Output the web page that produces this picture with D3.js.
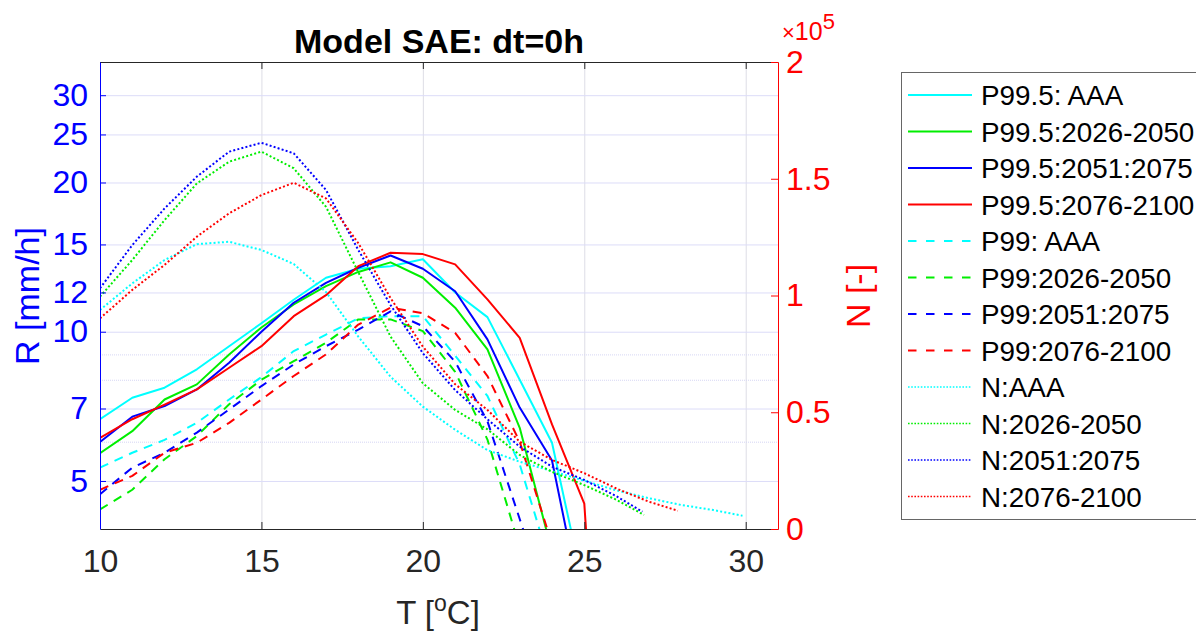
<!DOCTYPE html>
<html lang="en">
<head>
<meta charset="UTF-8">
<title>Model SAE: dt=0h</title>
<script src="https://d3js.org/d3.v7.min.js"></script>
<style>
    body { margin: 0; background: #fff; }
    svg { display: block; }
</style>
</head>
<body>
<svg id="chart" width="1196" height="632"></svg>
<script>
// ---- data ----
const tempsP = [10, 11, 12, 13, 14, 15, 16, 17, 18, 19, 20, 21, 22, 23, 24, 25, 26];

// P99.5 intensities [mm/h]
const p995AAA  = [6.66, 7.36, 7.71, 8.4, 9.35, 10.4, 11.6, 12.85, 13.4, 13.56, 14.0, 12.0, 10.7, 8.0, 5.97, 3.0];
const p995_2026 = [5.69, 6.3, 7.3, 7.83, 9.0, 10.2, 11.35, 12.36, 13.2, 13.8, 12.85, 11.18, 9.21, 6.4, 3.6];
const p995_2051 = [5.99, 6.74, 7.08, 7.65, 8.66, 10.0, 11.44, 12.55, 13.46, 14.25, 13.4, 12.07, 9.65, 7.03, 5.5, 2.64];
const p995_2076 = [6.11, 6.66, 7.13, 7.65, 8.46, 9.35, 10.75, 11.85, 13.56, 14.43, 14.34, 13.67, 11.62, 9.72, 6.5, 4.5, 0.5];

// P99 intensities [mm/h]
const p99AAA  = [5.32, 5.7, 6.05, 6.55, 7.3, 8.1, 9.14, 9.87, 10.64, 10.75, 10.75, 8.95, 7.42, 5.4, 3.3];
const p99_2026 = [4.38, 4.8, 5.53, 6.16, 7.14, 8.0, 8.72, 9.5, 10.59, 10.59, 10.03, 8.3, 6.06, 3.67];
const p99_2051 = [4.7, 5.32, 5.7, 6.26, 6.97, 7.77, 8.59, 9.35, 10.1, 10.99, 10.26, 8.7, 6.6, 4.19, 2.67];
const p99_2076 = [4.8, 5.12, 5.7, 5.97, 6.55, 7.3, 8.14, 9.0, 10.34, 11.18, 10.9, 9.95, 8.14, 6.0, 3.73];

// number of events N [-] (right axis)
const tempsNAAA  = [10, 11, 12, 13, 14, 15, 16, 17, 18, 19, 20, 21, 22, 23, 24, 25, 26, 27, 28, 29, 29.9];
const nAAA       = [93800, 105200, 115200, 122000, 123000, 119500, 113500, 101500, 82400, 65200, 52400, 42500, 33800, 28800, 24800, 20700, 16500, 13200, 10300, 8100, 5700];
const tempsN2026 = [10, 11, 12, 13, 14, 15, 16, 17, 18, 19, 20, 21, 22, 23, 24, 25, 26, 26.85];
const n2026      = [99500, 115200, 132300, 148000, 157300, 161600, 154500, 138000, 110000, 82400, 62400, 51000, 42700, 31700, 24500, 18800, 12500, 6000];
const tempsN2051 = [10, 11, 12, 13, 14, 15, 16, 17, 18, 19, 20, 21, 22, 23, 24, 25, 26, 26.8];
const n2051      = [103100, 121600, 137300, 150900, 161600, 165400, 160900, 145200, 119500, 95900, 75300, 59500, 47000, 35300, 26700, 21000, 14000, 7400];
const tempsN2076 = [10, 11, 12, 13, 14, 15, 16, 17, 18, 19, 20, 21, 22, 23, 24, 25, 26, 27, 27.9];
const n2076      = [90200, 102400, 113100, 125200, 135200, 143000, 148300, 141600, 122400, 98900, 78100, 62000, 51000, 37400, 29600, 23900, 17300, 11700, 7840];

const xTicks = [10, 15, 20, 25, 30];
const leftTicks = [5, 7, 10, 12, 15, 20, 25, 30];
const leftMinor = [6, 8, 9];
const rightTicks = [0, 50000, 100000, 150000, 200000];

const CYAN = '#00ffff', GREEN = '#00ee00', BLUE = '#0000ff', RED = '#ff0000';
const FONT = '"Liberation Sans", Arial, Helvetica, sans-serif';

const series = [
    { name: 'P99.5: AAA',       t: tempsP, v: p995AAA,   axis: 'L', color: CYAN,  style: 'solid' },
    { name: 'P99.5:2026-2050',  t: tempsP, v: p995_2026, axis: 'L', color: GREEN, style: 'solid' },
    { name: 'P99.5:2051:2075',  t: tempsP, v: p995_2051, axis: 'L', color: BLUE,  style: 'solid' },
    { name: 'P99.5:2076-2100',  t: tempsP, v: p995_2076, axis: 'L', color: RED,   style: 'solid' },
    { name: 'P99: AAA',         t: tempsP, v: p99AAA,    axis: 'L', color: CYAN,  style: 'dash' },
    { name: 'P99:2026-2050',    t: tempsP, v: p99_2026,  axis: 'L', color: GREEN, style: 'dash' },
    { name: 'P99:2051:2075',    t: tempsP, v: p99_2051,  axis: 'L', color: BLUE,  style: 'dash' },
    { name: 'P99:2076-2100',    t: tempsP, v: p99_2076,  axis: 'L', color: RED,   style: 'dash' },
    { name: 'N:AAA',            t: tempsNAAA,  v: nAAA,  axis: 'R', color: CYAN,  style: 'dot' },
    { name: 'N:2026-2050',      t: tempsN2026, v: n2026, axis: 'R', color: GREEN, style: 'dot' },
    { name: 'N:2051:2075',      t: tempsN2051, v: n2051, axis: 'R', color: BLUE,  style: 'dot' },
    { name: 'N:2076-2100',      t: tempsN2076, v: n2076, axis: 'R', color: RED,   style: 'dot' }
];

const dashes = { solid: null, dash: '9,7', dot: '2,2.2' };

// ---- scales ----
const plotL = 100, plotR = 778, plotT = 62, plotB = 529;
const x = d3.scaleLinear().domain([10, 31]).range([plotL, plotR]);
const yL = d3.scaleLog().domain([4, 35]).range([plotB, plotT]);
const yR = d3.scaleLinear().domain([0, 200000]).range([plotB, plotT]);

const svg = d3.select('#chart').attr('font-family', FONT);

svg.append('defs').append('clipPath').attr('id', 'plotClip')
    .append('rect').attr('x', plotL).attr('y', plotT)
    .attr('width', plotR - plotL).attr('height', plotB - plotT);

// ---- grid ----
const grid = svg.append('g');
grid.selectAll('.vgrid').data(xTicks.slice(1)).enter().append('line')
    .attr('x1', d => x(d) + 0.5).attr('x2', d => x(d) + 0.5)
    .attr('y1', plotT).attr('y2', plotB)
    .attr('stroke', '#dddde6').attr('stroke-width', 1);
grid.selectAll('.hgrid').data(leftTicks).enter().append('line')
    .attr('x1', plotL).attr('x2', plotR)
    .attr('y1', d => yL(d) + 0.5).attr('y2', d => yL(d) + 0.5)
    .attr('stroke', '#dcdcf8').attr('stroke-width', 1);
grid.selectAll('.mgrid').data(leftMinor).enter().append('line')
    .attr('x1', plotL).attr('x2', plotR)
    .attr('y1', d => yL(d) + 0.5).attr('y2', d => yL(d) + 0.5)
    .attr('stroke', '#d6d6f4').attr('stroke-width', 1).attr('stroke-dasharray', '1,1');

// ---- lines ----
const plot = svg.append('g').attr('clip-path', 'url(#plotClip)');
series.forEach(s => {
    const yScale = s.axis === 'L' ? yL : yR;
    const pts = s.v.map((v, i) => [s.t[i], v]);
    const line = d3.line().x(d => x(d[0])).y(d => yScale(d[1]));
    plot.append('path')
        .datum(pts)
        .attr('d', line)
        .attr('fill', 'none')
        .attr('stroke', s.color)
        .attr('stroke-width', 2)
        .attr('stroke-linejoin', 'round')
        .attr('stroke-dasharray', dashes[s.style]);
});

// ---- axes ----
function styleAxis(g, color, size) {
    g.attr('font-family', FONT).attr('font-size', size);
    g.select('.domain').attr('stroke', color);
    g.selectAll('.tick line').attr('stroke', color);
    g.selectAll('.tick text').attr('fill', color);
}

const axisGray = '#262626';
const tickFont = 32;
svg.append('g').attr('transform', `translate(0,${plotB})`)
    .call(d3.axisBottom(x).tickValues(xTicks).tickSizeInner(-7).tickSizeOuter(0).tickPadding(20))
    .call(g => styleAxis(g, axisGray, tickFont));
svg.append('g').attr('transform', `translate(0,${plotT})`)
    .call(d3.axisTop(x).tickValues(xTicks).tickSizeInner(-7).tickSizeOuter(0).tickFormat(''))
    .call(g => styleAxis(g, axisGray, tickFont));
svg.append('g').attr('transform', `translate(${plotL},0)`)
    .call(d3.axisLeft(yL).tickValues(leftTicks).tickFormat(d3.format('d')).tickSizeInner(-6).tickSizeOuter(0).tickPadding(12))
    .call(g => styleAxis(g, BLUE, tickFont));
svg.append('g').attr('transform', `translate(${plotR},0)`)
    .call(d3.axisRight(yR).tickValues(rightTicks).tickFormat(d => d / 100000).tickSizeInner(-7).tickSizeOuter(0).tickPadding(8))
    .call(g => styleAxis(g, RED, tickFont));

// exponent label
const expo = svg.append('text').attr('x', 782).attr('y', 40)
    .attr('fill', RED).attr('font-size', 25);
expo.append('tspan').attr('font-size', 22).text('×');
expo.append('tspan').text('10');
expo.append('tspan').attr('dy', -11).attr('font-size', 22).text('5');

// ---- titles ----
svg.append('text').attr('x', 439).attr('y', 53)
    .attr('text-anchor', 'middle').attr('font-size', 34).attr('font-weight', 'bold')
    .attr('fill', '#000').text('Model SAE: dt=0h');

svg.append('text').attr('transform', 'translate(39,296) rotate(-90)')
    .attr('text-anchor', 'middle').attr('font-size', 34).attr('fill', BLUE)
    .text('R [mm/h]');

svg.append('text').attr('transform', 'translate(870,296) rotate(-90)')
    .attr('text-anchor', 'middle').attr('font-size', 34).attr('fill', RED)
    .text('N [-]');

const xl = svg.append('text').attr('x', 438).attr('y', 624)
    .attr('text-anchor', 'middle').attr('font-size', 33).attr('fill', axisGray);
xl.append('tspan').text('T [');
xl.append('tspan').attr('dy', -13).attr('font-size', 23).text('o');
xl.append('tspan').attr('dy', 13).text('C]');

// ---- legend ----
const legend = svg.append('g');
legend.append('rect').attr('x', 901.5).attr('y', 72.5).attr('width', 310).attr('height', 447)
    .attr('fill', '#fff').attr('stroke', '#666').attr('stroke-width', 1);
const rowY = i => 95 + i * 36.5;
series.forEach((s, i) => {
    legend.append('line')
        .attr('x1', 908).attr('x2', 972).attr('y1', rowY(i)).attr('y2', rowY(i))
        .attr('stroke', s.color)
        .attr('stroke-width', s.style === 'dot' ? 1.5 : 2)
        .attr('stroke-dasharray', s.style === 'dot' ? '1.6,1.6' : (s.style === 'dash' ? '8.5,9.5' : null));
    legend.append('text').attr('x', 981).attr('y', rowY(i)).attr('dy', '0.36em')
        .attr('font-size', 27.8).attr('fill', '#000').text(s.name);
});
</script>
</body>
</html>
